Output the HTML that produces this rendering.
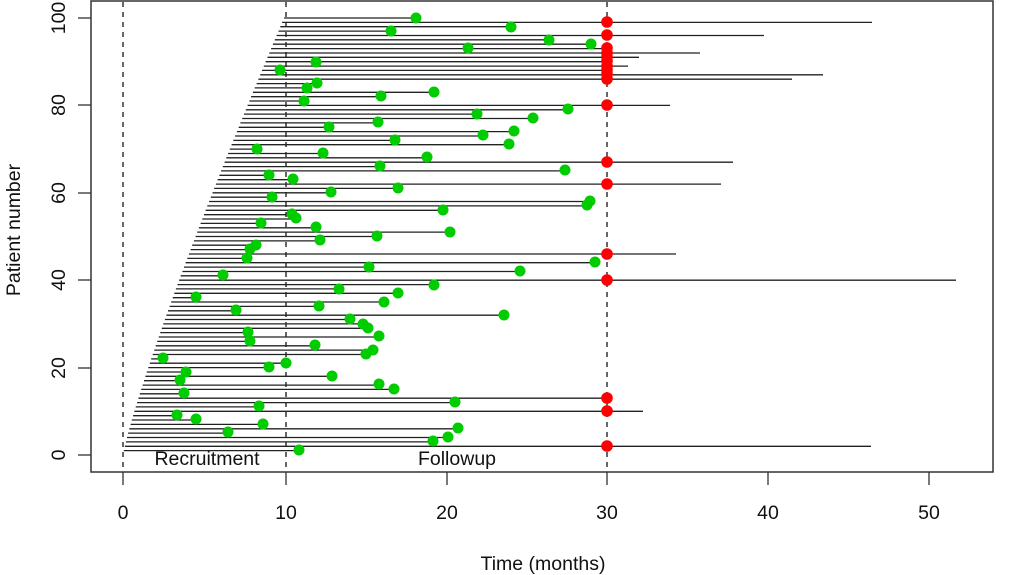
<!DOCTYPE html>
<html><head><meta charset="utf-8"><style>
html,body{margin:0;padding:0;background:#fff;}
svg{display:block;font-family:"Liberation Sans",sans-serif;}
</style></head><body>
<svg id="s" width="1024" height="575" xmlns="http://www.w3.org/2000/svg">
<rect x="91" y="1" width="902" height="471" fill="none" stroke="#333" stroke-width="1.5"/>
<g stroke="#000" stroke-width="1.2" stroke-dasharray="5,5">
<line x1="123" y1="2" x2="123" y2="471"/>
<line x1="286" y1="2" x2="286" y2="471"/>
<line x1="607" y1="2" x2="607" y2="471"/>
</g>
<g id="lines" stroke="#222" stroke-width="1.3"></g>
<g id="pts"></g>
<g stroke="#333" stroke-width="1.3">
<line x1="78" y1="455" x2="91" y2="455"/><line x1="78" y1="368" x2="91" y2="368"/>
<line x1="78" y1="280" x2="91" y2="280"/><line x1="78" y1="193" x2="91" y2="193"/>
<line x1="78" y1="105" x2="91" y2="105"/><line x1="78" y1="18" x2="91" y2="18"/>
<line x1="123" y1="472" x2="123" y2="485"/><line x1="286" y1="472" x2="286" y2="485"/>
<line x1="447" y1="472" x2="447" y2="485"/><line x1="607" y1="472" x2="607" y2="485"/>
<line x1="768" y1="472" x2="768" y2="485"/><line x1="929" y1="472" x2="929" y2="485"/>
</g>
<g font-size="19.5" fill="#111" text-anchor="middle">
<text x="123" y="519">0</text><text x="286" y="519">10</text><text x="447" y="519">20</text>
<text x="607" y="519">30</text><text x="768" y="519">40</text><text x="929" y="519">50</text>
<text transform="translate(65,455) rotate(-90)">0</text>
<text transform="translate(65,368) rotate(-90)">20</text>
<text transform="translate(65,280) rotate(-90)">40</text>
<text transform="translate(65,193) rotate(-90)">60</text>
<text transform="translate(65,105) rotate(-90)">80</text>
<text transform="translate(65,18) rotate(-90)">100</text>
<text x="543" y="570">Time (months)</text>
<text transform="translate(20,230) rotate(-90)">Patient number</text>
<text x="207" y="465">Recruitment</text>
<text x="457" y="465">Followup</text>
</g>
</svg>
<script>
var green=[[416,18],[511,27],[391,31],[549,40],[591,44],[468,48],[316,62],[280,70],[317,83],[307,88],[434,92],[381,96],[304,101],[568,109],[477,114],[533,118],[378,122],[329,127],[514,131],[483,135],[395,140],[509,144],[257,149],[323,153],[427,157],[380,166],[565,170],[269,175],[293,179],[398,188],[331,192],[272,197],[590,201],[587,205],[443,210],[292,214],[296,218],[261,223],[316,227],[450,232],[377,236],[320,240],[256,245],[250,249],[247,258],[595,262],[369,267],[520,271],[223,275],[434,285],[339,289],[398,293],[196,297],[384,302],[319,306],[236,310],[504,315],[350,319],[363,324],[368,328],[248,332],[379,336],[250,341],[315,345],[373,350],[366,354],[163,358],[286,363],[269,367],[186,372],[332,376],[180,380],[379,384],[394,389],[184,393],[455,402],[259,406],[177,415],[196,419],[263,424],[458,428],[228,432],[448,437],[433,441],[299,450]];
var red=[[22,872],[35,764],[48,607],[53,700],[57,639],[61,607],[66,628],[70,607],[74,823],[79,792],[105,670],[162,733],[184,721],[254,676],[280,956],[398,607],[411,643],[446,871]];
var ends={};
green.forEach(function(p){var i=Math.round((455-p[1])/4.37);ends[i]=ends[i]||p[0];});
red.forEach(function(p){var i=Math.round((455-p[0])/4.37);ends[i]=Math.max(ends[i]||0,p[1]);});
var L='',P='';
for(var i=1;i<=100;i++){var y=455-4.37*i;var s=123+161*Math.pow(i/100,1.15);var e=ends[i]||(s+150);
L+='<line x1="'+s.toFixed(1)+'" y1="'+y.toFixed(1)+'" x2="'+e+'" y2="'+y.toFixed(1)+'"/>';}
green.forEach(function(p){P+='<circle cx="'+p[0]+'" cy="'+p[1]+'" r="5.5" fill="#00cc00"/>';});
red.forEach(function(p){P+='<circle cx="607" cy="'+p[0]+'" r="5.8" fill="#ff0000"/>';});
document.getElementById('lines').innerHTML=L;
document.getElementById('pts').innerHTML=P;
</script>
</body></html>
